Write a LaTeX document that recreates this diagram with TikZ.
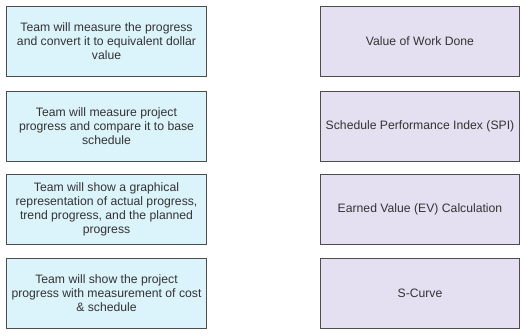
\documentclass[tikz,border=0pt]{standalone}
\usepackage{fontspec}
\setmainfont{Liberation Sans}
\definecolor{lfill}{HTML}{DBF3FA}
\definecolor{rfill}{HTML}{E5E0F1}
\definecolor{bord}{HTML}{4D4D4D}
\definecolor{txt}{HTML}{333333}
\begin{document}
\begin{tikzpicture}[x=1pt,y=-1pt,
  boxstyle/.style={draw=bord,line width=1pt,minimum width=200pt,minimum height=70pt,
    inner sep=1pt,align=center,text=txt,font=\fontsize{12.2}{14}\selectfont,anchor=north west},
  leftbox/.style={boxstyle,fill=lfill},
  rightbox/.style={boxstyle,fill=rfill,minimum width=199pt}]
\useasboundingbox (0,0) rectangle (524,335);
\node[leftbox] (l1) at (6,6) {Team will measure the progress\\and convert it to equivalent dollar\\value};
\node[leftbox] (l2) at (6,90.5) {Team will measure project\\progress and compare it to base\\schedule};
\node[leftbox] (l3) at (6,174) {Team will show a graphical\\representation of actual progress,\\trend progress, and the planned\\progress};
\node[leftbox] (l4) at (6,258) {Team will show the project\\progress with measurement of cost\\\& schedule};
\node[rightbox] (r1) at (320,6) {Value of Work Done};
\node[rightbox] (r2) at (320,90.5) {Schedule Performance Index (SPI)};
\node[rightbox] (r3) at (320,174) {Earned Value (EV) Calculation};
\node[rightbox] (r4) at (320,258) {S-Curve};
\end{tikzpicture}
\end{document}
